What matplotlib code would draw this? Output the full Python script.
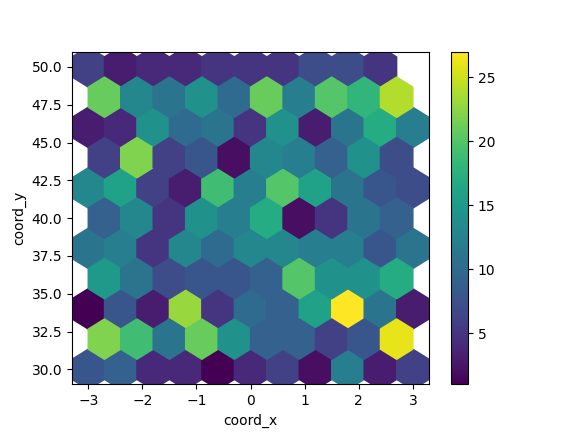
import numpy as np
import matplotlib
matplotlib.use("Agg")
import matplotlib.pyplot as plt

xs_a = [-3.0, -2.4, -1.8, -1.2, -0.6, 0.0, 0.6, 1.2, 1.8, 2.4, 3.0]
xs_b = [-2.7, -2.1, -1.5, -0.9, -0.3, 0.3, 0.9, 1.5, 2.1, 2.7]
rows = {
    50: [6, 3, 4, 4, 5, 5, 5, 7, 7, 5, None],
    48: [21, 13, 11, 14, 10, 21, 12, 20, 18, 24],
    46: [3, 4, 14, 10, 11, 5, 14, 3, 11, 17, 12],
    44: [6, 22, 6, 8, 2, 13, 12, 9, 14, 7],
    42: [13, 16, 6, 3, 19, 12, 20, 16, 11, 8, 7],
    40: [9, 13, 5, 14, 12, 17, 2, 5, 11, 9],
    38: [11, 12, 5, 13, 10, 13, 13, 12, 12, 8, 11],
    36: [15, 11, 7, 8, 8, 9, 20, 14, 14, 17],
    34: [1, 8, 3, 23, 5, 10, 9, 16, 27, 11, 3],
    32: [22, 19, 11, 21, 14, 9, 9, 6, 8, 26],
    30: [8, 9, 4, 4, 1, 4, 6, 2, 12, 3, 6],
}

px, py, pc = [], [], []
for yv, vals in rows.items():
    xs = xs_a if len(vals) == 11 else xs_b
    for xv, c in zip(xs, vals):
        if c is None:
            continue
        px.append(xv); py.append(yv); pc.append(c)

fig, ax = plt.subplots(figsize=(5.76, 4.32), dpi=100)
hb = ax.hexbin(px, py, C=pc, reduce_C_function=np.sum, gridsize=10,
               extent=(-3, 3, 30, 50), cmap="viridis")
fig.colorbar(hb, ax=ax)
ax.set_xlabel("coord_x")
ax.set_ylabel("coord_y")
fig.savefig("out.png")
